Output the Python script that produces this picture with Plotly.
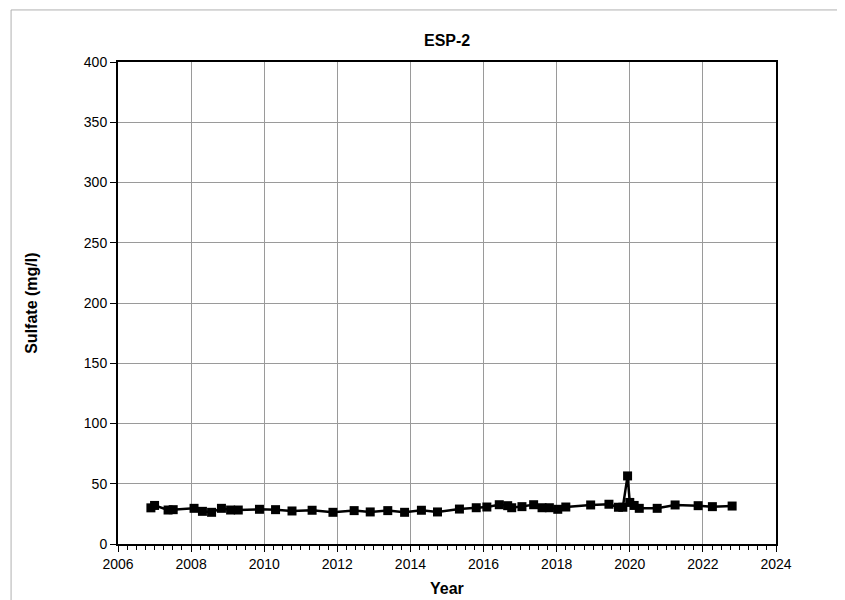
"""Sulfate concentration over time at well ESP-2."""
import plotly.graph_objects as go

# decimal year of each sample and measured sulfate (mg/l)
years = [
    2006.90, 2007.00, 2007.37, 2007.51, 2008.08, 2008.31, 2008.56, 2008.83,
    2009.08, 2009.29, 2009.87, 2010.31, 2010.76, 2011.31, 2011.88, 2012.46,
    2012.90, 2013.38, 2013.84, 2014.30, 2014.74, 2015.34, 2015.80, 2016.09,
    2016.43, 2016.66, 2016.77, 2017.05, 2017.37, 2017.60, 2017.80, 2018.03,
    2018.25, 2018.93, 2019.43, 2019.69, 2019.81, 2019.94, 2020.00, 2020.12,
    2020.26, 2020.75, 2021.24, 2021.87, 2022.26, 2022.80,
]
sulfate = [
    30.0, 32.0, 28.2, 28.5, 29.6, 27.1, 26.3, 29.6,
    28.2, 28.2, 28.8, 28.5, 27.4, 28.0, 26.3, 27.7,
    26.6, 27.7, 26.3, 28.0, 26.6, 29.0, 30.1, 30.7,
    32.6, 31.8, 30.1, 31.0, 32.6, 30.1, 30.1, 28.8,
    30.7, 32.4, 33.0, 30.5, 30.5, 56.5, 34.5, 32.0,
    29.6, 29.6, 32.4, 31.8, 31.0, 31.5,
]

FONT = "Liberation Sans, Arial, sans-serif"

fig = go.Figure()
fig.add_trace(go.Scatter(
    x=years, y=sulfate,
    mode="lines+markers",
    line=dict(color="black", width=2.5),
    marker=dict(symbol="square", size=9, color="black"),
    showlegend=False,
))

frame = dict(color="#b0b0b0", width=1)

# the page body adds an 8px offset, so the figure is shrunk by that much
# and margins trimmed to land the plot area where the original sits
fig.update_layout(
    width=837, height=592,
    margin=dict(l=110, r=69, t=54, b=56),
    paper_bgcolor="white", plot_bgcolor="white",
    font=dict(family=FONT, size=14, color="black"),
    xaxis=dict(
        range=[2006, 2024], dtick=2, tick0=2006,
        showgrid=True, gridcolor="#9a9a9a", gridwidth=1,
        showline=True, linecolor="black", linewidth=2, mirror=True,
        ticks="outside", ticklen=6, tickcolor="black", tickwidth=1,
        minor=dict(dtick=0.25, ticks="outside", ticklen=4,
                   tickcolor="black", showgrid=False),
        zeroline=False,
    ),
    yaxis=dict(
        range=[0, 400], dtick=50,
        showgrid=True, gridcolor="#9a9a9a", gridwidth=1,
        showline=True, linecolor="black", linewidth=2, mirror=True,
        ticks="outside", ticklen=6, tickcolor="black", tickwidth=1,
        zeroline=False,
    ),
    annotations=[
        dict(text="<b>ESP-2</b>", x=0.5, y=1.0436, xref="paper", yref="paper",
             showarrow=False, font=dict(size=16), yanchor="middle"),
        dict(text="<b>Year</b>", x=0.5, y=-0.0913, xref="paper", yref="paper",
             showarrow=False, font=dict(size=16), yanchor="middle"),
        dict(text="<b>Sulfate (mg/l)</b>", x=-0.1325, y=0.5, xref="paper",
             yref="paper", showarrow=False, font=dict(size=16), textangle=-90,
             xanchor="center"),
    ],
    shapes=[
        # outer chart frame: only left and top edges fall on the page
        dict(type="line", xref="paper", yref="paper",
             x0=-0.1625, x1=-0.1625, y0=-0.2, y1=1.108, line=frame,
             layer="below"),
        dict(type="line", xref="paper", yref="paper",
             x0=-0.1625, x1=1.2, y0=1.108, y1=1.108, line=frame,
             layer="below"),
    ],
)

fig.write_html("out.html")
